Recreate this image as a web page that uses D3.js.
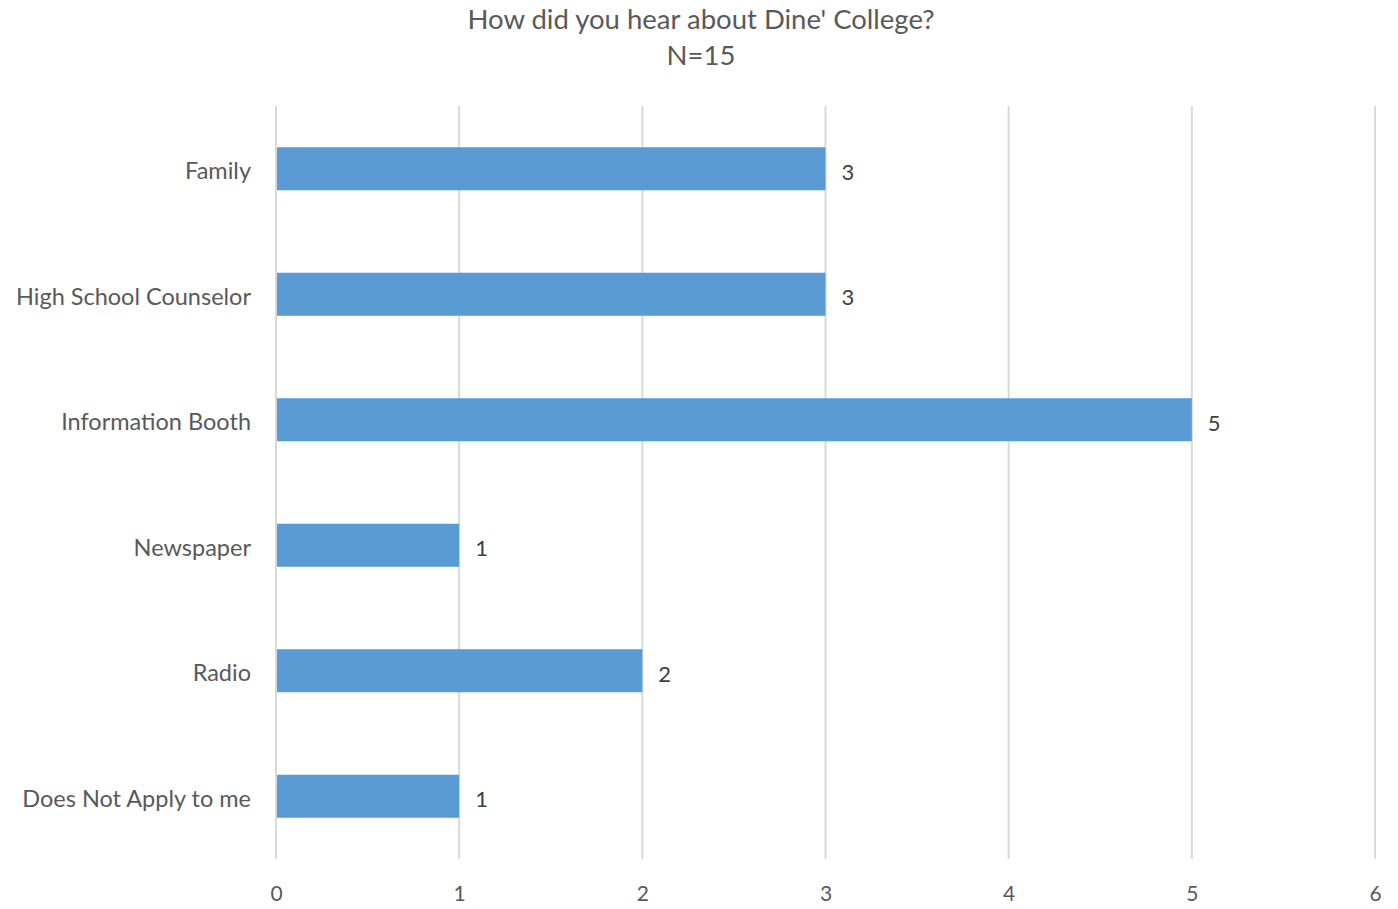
<!DOCTYPE html>
<html><head><meta charset="utf-8">
<script src="https://cdn.jsdelivr.net/npm/d3@7"></script>
<style>body{margin:0;background:#fff}svg{display:block}text{font-family:Lato,"Open Sans",sans-serif}</style>
</head><body><svg id="c" width="1398" height="909"></svg>
<script>
const categories = ["Family","High School Counselor","Information Booth","Newspaper","Radio","Does Not Apply to me"];
const values = [3,3,5,1,2,1];
const xTicks = [0,1,2,3,4,5,6];
const titleLines = ["How did you hear about Dine' College?","N=15"];

const svg = d3.select("#c");
const m = {left:276, right:1375, top:106, bottom:859};
const x = d3.scaleLinear().domain([0,6]).range([m.left,m.right]);
const y = d3.scaleBand().domain(categories).range([m.top,m.bottom]).paddingInner(0.657).paddingOuter(0.3285);

// gridlines
svg.append("g").selectAll("line").data(xTicks).join("line")
  .attr("x1",d=>x(d)).attr("x2",d=>x(d)).attr("y1",m.top).attr("y2",m.bottom)
  .attr("stroke","#d9d9d9").attr("stroke-width",2);

// bars
svg.append("g").selectAll("rect").data(values).join("rect")
  .attr("x",x(0)+1).attr("y",(d,i)=>y(categories[i]))
  .attr("width",d=>x(d)-x(0)-1).attr("height",y.bandwidth())
  .attr("fill","#5b9bd5");

// value labels
svg.append("g").selectAll("text").data(values).join("text")
  .attr("x",d=>x(d)+16).attr("y",(d,i)=>y(categories[i])+y.bandwidth()/2)
  .attr("dy","0.5em").attr("fill","#404040").attr("font-size",22)
  .text(d=>d);

// y axis labels
const yAxis = d3.axisLeft(y).tickSize(0).tickPadding(25);
const gy = svg.append("g").attr("transform",`translate(${m.left},0)`).call(yAxis);
gy.select(".domain").remove();
gy.selectAll("text").attr("fill","#595959").attr("font-size",23.5).style("font-family","Lato,'Open Sans',sans-serif").attr("dy","0.45em");

// x axis labels
const xAxis = d3.axisBottom(x).tickValues(xTicks).tickSize(0).tickPadding(0).tickFormat(d3.format("d"));
const gx = svg.append("g").attr("transform",`translate(0,${m.bottom})`).call(xAxis);
gx.select(".domain").remove();
gx.selectAll("text").attr("fill","#595959").attr("font-size",21).style("font-family","Lato,'Open Sans',sans-serif").attr("dy","2.0em");

// title
svg.append("g").selectAll("text").data(titleLines).join("text")
  .attr("x",701).attr("y",(d,i)=>29+i*36).attr("text-anchor","middle")
  .attr("fill","#595959").attr("font-size",27.5).text(d=>d);
</script></body></html>
